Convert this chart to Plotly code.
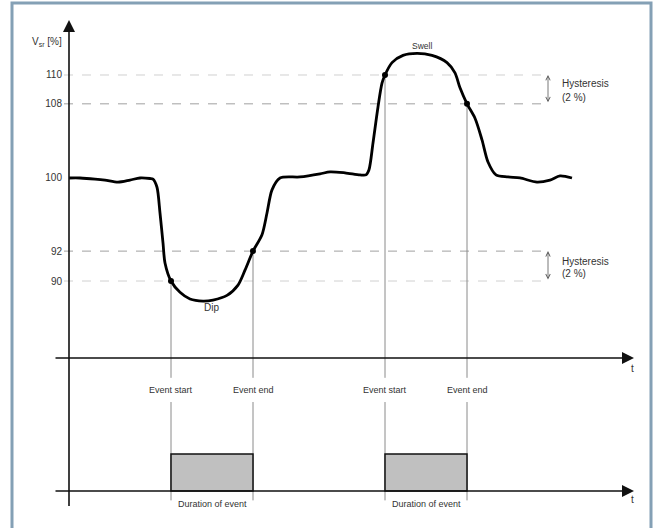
import plotly.graph_objects as go

# ---- data (time in arbitrary units, voltage in % of declared value; schematic scale) ----
t = [0, 1.1, 2.6, 3.6, 4.9, 6.1, 7.1, 8.1, 8.4, 8.8, 9.1, 9.4, 9.6, 10.2, 11.1, 12.1, 13.4,
     14.4, 15.8, 16.9, 17.6, 18.4, 19.3, 19.8, 20.3, 21.1, 23.1, 25.1, 26.1, 27.6, 29.1, 29.7,
     30.0, 30.4, 30.9, 31.3, 31.6, 32.3, 33.4, 34.8, 36.3, 37.8, 38.6, 39.1, 39.8, 40.6, 41.3,
     41.9, 42.7, 43.9, 45.1, 46.8, 48.1, 49.1, 50.3]
v = [100, 100, 99.9, 99.8, 99.6, 99.8, 100, 99.95, 99.9, 99.1, 96.6, 93.7, 91.75, 90.0, 88.9,
     88.25, 88.05, 88.15, 88.6, 89.6, 91.05, 92.9, 94.5, 96.6, 98.85, 100, 100.1, 100.4, 100.6,
     100.5, 100.3, 100.3, 100.8, 103.4, 106.9, 109.2, 110.0, 111.2, 111.9, 112.1, 111.9, 111.2,
     110.2, 108.75, 107.2, 105.8, 103.7, 101.55, 100.3, 100.1, 100, 99.6, 99.8, 100.2, 100]

tick_vals = [90, 92.9, 100, 107.2, 110]
tick_text = ["90", "92", "100", "108", "110"]

event_names = ["Dip", "Swell"]
event_start = [10.2, 31.6]
event_end = [18.4, 39.8]
event_start_level = [90, 110]
event_end_level = [92.9, 107.2]
threshold_levels = [110, 107.2, 92.9, 90]
hysteresis_pairs = [(110, 107.2), (92.9, 90)]
event_state = [0, 1]

FONT = "Liberation Sans, Arial, sans-serif"
TXT = "#333333"

fig = go.Figure()

# threshold dashed lines
for lv in threshold_levels:
    faint = lv in (110, 90)
    fig.add_shape(type="line", xref="x", yref="y", x0=-0.5, x1=47.8, y0=lv, y1=lv,
                  line=dict(color="#d0d0d0" if faint else "#a0a0a0", width=1, dash="dash"),
                  layer="below")

# guide vertical lines
for ts, te, ls, le in zip(event_start, event_end, event_start_level, event_end_level):
    for tx, lv in ((ts, ls), (te, le)):
        fig.add_shape(type="line", xref="x", yref="y", x0=tx, x1=tx, y0=lv, y1=80.6,
                      line=dict(color="#8a8a8a", width=1), layer="below")
        fig.add_shape(type="line", xref="x", yref="y", x0=tx, x1=tx, y0=78.25, y1=68.7,
                      line=dict(color="#8a8a8a", width=1), layer="below")

# event rectangles (lower panel)
for ts, te in zip(event_start, event_end):
    fig.add_shape(type="rect", xref="x", yref="y2", x0=ts, x1=te, y0=event_state[0], y1=event_state[1],
                  fillcolor="#c0c0c0", line=dict(color="#111111", width=1.5))

# curve
fig.add_trace(go.Scatter(x=t, y=v, mode="lines", line=dict(color="black", width=2.8, shape="spline", smoothing=0.8),
                         hoverinfo="skip", showlegend=False))
# event markers
fig.add_trace(go.Scatter(x=event_start + event_end, y=event_start_level + event_end_level, mode="markers",
                         marker=dict(color="black", size=6), hoverinfo="skip", showlegend=False))
# dummy trace on y2
fig.add_trace(go.Scatter(x=[event_start[0]], y=[event_state[0]], yaxis="y2", mode="markers",
                         marker=dict(opacity=0), hoverinfo="skip", showlegend=False))

ann = []
# axes arrows
ann.append(dict(x=0, y=115.35, ax=0, ay=68.0, xref="x", yref="y", axref="x", ayref="y",
                showarrow=True, arrowhead=2, arrowsize=1.5, arrowwidth=1.6, arrowcolor="#111", text=""))
ann.append(dict(x=56.5, y=82.52, ax=-1.5, ay=82.52, xref="x", yref="y", axref="x", ayref="y",
                showarrow=True, arrowhead=2, arrowsize=1.5, arrowwidth=1.6, arrowcolor="#111", text=""))
ann.append(dict(x=56.5, y=0, ax=-1.5, ay=0, xref="x", yref="y2", axref="x", ayref="y2",
                showarrow=True, arrowhead=2, arrowsize=1.5, arrowwidth=1.6, arrowcolor="#111", text=""))
# hysteresis arrows + text
for (hi, lo), ytxt in zip(hysteresis_pairs, [(109.13, 107.77), (91.94, 90.68)]):
    ann.append(dict(x=47.9, y=hi, ax=47.9, ay=lo, xref="x", yref="y", axref="x", ayref="y",
                    showarrow=True, arrowhead=5, startarrowhead=5, arrowside="end+start", arrowsize=1.1,
                    startarrowsize=1.1, arrowwidth=0.8, arrowcolor="#555", text=""))
    ann.append(dict(x=49.1, y=ytxt[0], xref="x", yref="y", text="Hysteresis", showarrow=False,
                    xanchor="left", font=dict(size=10, color=TXT, family=FONT)))
    ann.append(dict(x=49.1, y=ytxt[1], xref="x", yref="y", text="(2 %)", showarrow=False,
                    xanchor="left", font=dict(size=10, color=TXT, family=FONT)))
# labels
ann.append(dict(x=35.3, y=112.8, xref="x", yref="y", text="Swell", showarrow=False,
                font=dict(size=8.5, color=TXT, family=FONT)))
ann.append(dict(x=14.2, y=87.45, xref="x", yref="y", text="Dip", showarrow=False,
                font=dict(size=10, color=TXT, family=FONT)))
ann.append(dict(x=-2.2, y=113.2, xref="x", yref="y", text="V<sub>sr</sub> [%]", showarrow=False,
                font=dict(size=10, color=TXT, family=FONT)))
for ts, te in zip(event_start, event_end):
    ann.append(dict(x=ts, y=2.73, xref="x", yref="y2", text="Event start", showarrow=False,
                    font=dict(size=9, color=TXT, family=FONT)))
    ann.append(dict(x=te, y=2.73, xref="x", yref="y2", text="Event end", showarrow=False,
                    font=dict(size=9, color=TXT, family=FONT)))
    ann.append(dict(x=(ts + te) / 2, y=-0.34, xref="x", yref="y2", text="Duration of event", showarrow=False,
                    font=dict(size=9, color=TXT, family=FONT)))
ann.append(dict(x=56.3, y=81.55, xref="x", yref="y", text="t", showarrow=False,
                font=dict(size=10, color=TXT, family=FONT)))
ann.append(dict(x=56.3, y=-0.22, xref="x", yref="y2", text="t", showarrow=False,
                font=dict(size=10, color=TXT, family=FONT)))

# frame
fig.add_shape(type="rect", xref="paper", yref="paper", x0=12 / 656, x1=651 / 656, y0=-0.05, y1=1 - 3 / 528,
              line=dict(color="#84a0b5", width=3), fillcolor="rgba(0,0,0,0)")

fig.update_layout(
    width=656, height=528, margin=dict(l=0, r=0, t=0, b=0),
    paper_bgcolor="white", plot_bgcolor="white",
    annotations=ann, showlegend=False,
    xaxis=dict(range=[-6.9, 58.7], visible=False, domain=[0, 1]),
    yaxis=dict(range=[66.02, 117.28], domain=[0, 1], anchor="free", position=69 / 656,
               tickvals=tick_vals, ticktext=tick_text, showgrid=False, zeroline=False,
               showline=False, ticks="", ticklabelstandoff=7,
               tickfont=dict(size=10, color=TXT, family=FONT)),
    yaxis2=dict(range=[-1.0, 13.27], overlaying="y", visible=False),
)

fig.write_html("out.html", config={"displayModeBar": False},
               post_script="document.body.style.margin='0px';document.body.style.overflow='hidden';")
